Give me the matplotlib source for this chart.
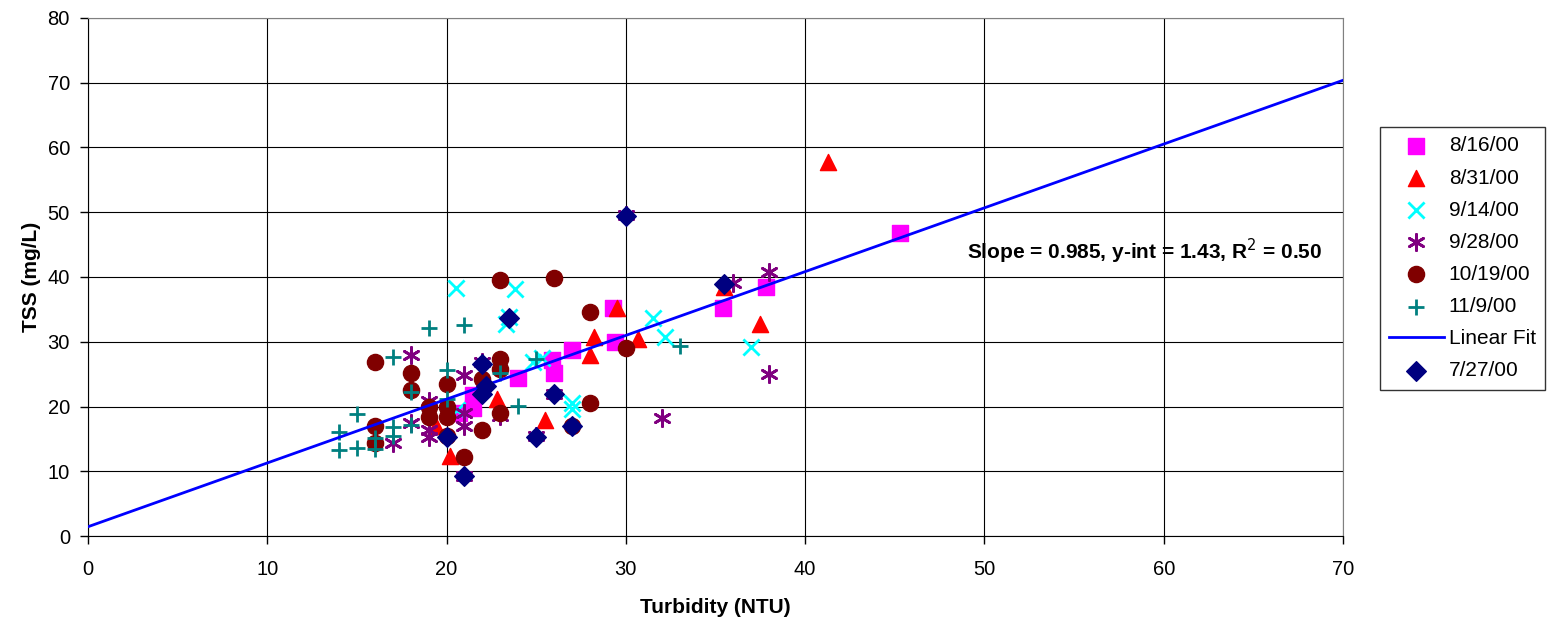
import matplotlib
matplotlib.use('Agg')
import matplotlib.pyplot as plt

plt.rcParams['font.family'] = ['Liberation Sans', 'DejaVu Sans']

# Turbidity (NTU) / TSS (mg/L) por data de coleta
x_0816 = [20.7, 21.5, 21.5, 24.0, 25.9, 26.0, 27.0, 29.3, 29.4, 35.4, 37.8, 45.3]
y_0816 = [19.0, 19.8, 21.7, 24.4, 27.2, 25.1, 28.8, 35.2, 30.0, 35.2, 38.4, 46.8]

x_0831 = [19.4, 20.2, 22.8, 25.5, 28.0, 28.2, 29.5, 30.7, 35.5, 37.5, 41.3]
y_0831 = [17.0, 12.4, 21.1, 17.9, 28.0, 30.8, 35.2, 30.4, 38.5, 32.8, 57.7]

x_0914 = [20.5, 20.6, 23.3, 23.5, 23.8, 24.8, 25.3, 27.0, 27.0, 31.5, 32.2, 37.0]
y_0914 = [38.3, 19.5, 32.7, 33.8, 38.1, 26.9, 27.5, 20.5, 19.6, 33.6, 30.8, 29.2]

x_0928 = [17, 18, 18, 19, 19, 19, 21, 21, 21, 21, 22, 23, 25, 26, 30, 32, 36, 38, 38]
y_0928 = [14.3, 27.9, 17.4, 20.8, 16.3, 15.3, 24.9, 19.0, 17.0, 9.3, 26.8, 18.6,
          15.5, 22.0, 49.5, 18.3, 39.0, 40.7, 25.0]

x_1019 = [16, 16, 16, 18, 18, 19, 19, 20, 20, 20, 20, 21, 22, 22, 23, 23, 23, 23,
          26, 27, 28, 28, 30]
y_1019 = [26.8, 17.0, 14.3, 25.2, 22.5, 20.0, 18.4, 23.5, 20.0, 18.4, 15.4, 12.2,
          24.3, 16.4, 39.5, 27.3, 25.8, 19.0, 39.8, 17.0, 34.6, 20.5, 29.0]

x_1109 = [14, 14, 15, 15, 16, 16, 17, 17, 17, 18, 18, 19, 20, 20, 21, 23, 24, 25, 33]
y_1109 = [16.0, 13.3, 18.9, 13.6, 15.1, 13.5, 27.6, 16.9, 15.4, 22.2, 17.1, 32.1,
          25.6, 21.2, 32.6, 25.2, 20.1, 27.4, 29.3]

x_0727 = [20, 21, 22, 22.2, 22, 23.5, 25, 26, 27, 30, 35.5]
y_0727 = [15.3, 9.2, 26.6, 23.1, 22.0, 33.6, 15.3, 22.0, 17.0, 49.4, 38.9]

# Ajuste linear
slope = 0.985
intercept = 1.43
fit_x = [0, 70]
fit_y = [intercept + slope * v for v in fit_x]

fig = plt.figure(figsize=(15.49, 6.21), dpi=100)
ax = fig.add_axes([88 / 1549, 85 / 621, (1343 - 88) / 1549, (536 - 18) / 621])

ms = 135
ax.scatter(x_0816, y_0816, marker='s', s=ms, color='#FF00FF', label='8/16/00', zorder=3)
ax.scatter(x_0831, y_0831, marker='^', s=ms, color='#FF0000', label='8/31/00', zorder=3)
ax.scatter(x_0914, y_0914, marker='x', s=ms, color='#00FFFF', linewidths=2, label='9/14/00', zorder=3)
ax.scatter(x_0928, y_0928, marker=(6, 2, 0), s=ms, color='#800080', linewidths=2, label='9/28/00', zorder=3)
ax.scatter(x_1019, y_1019, marker='o', s=ms, color='#800000', label='10/19/00', zorder=3)
ax.scatter(x_1109, y_1109, marker='+', s=ms, color='#008080', linewidths=2, label='11/9/00', zorder=3)
ax.plot(fit_x, fit_y, color='#0000FF', linewidth=2, label='Linear Fit', zorder=4)
ax.scatter(x_0727, y_0727, marker='D', s=100, color='#000080', label='7/27/00', zorder=5)

ax.text(49.05, 44.0, 'Slope = 0.985, y-int = 1.43, R$^2$ = 0.50',
        fontsize=15, fontweight='bold', va='center', ha='left', zorder=6)

ax.set_xlim(0, 70)
ax.set_ylim(0, 80)
ax.set_xticks(range(0, 71, 10))
ax.set_yticks(range(0, 81, 10))
ax.grid(True, color='black', linewidth=0.8)
ax.set_axisbelow(True)
ax.tick_params(axis='both', labelsize=14.5, length=6, direction='out', width=1)
ax.tick_params(axis='x', pad=11)
ax.tick_params(axis='y', pad=7)
for side in ['top', 'right']:
    ax.spines[side].set_color('#808080')
ax.set_xlabel('Turbidity (NTU)', fontsize=15, fontweight='bold', labelpad=14)
ax.set_ylabel('TSS (mg/L)', fontsize=15, fontweight='bold', labelpad=5)

leg = ax.legend(loc='upper left', bbox_to_anchor=(1380 / 1549, 1 - 127 / 621),
                bbox_transform=fig.transFigure, borderaxespad=0, fontsize=15,
                frameon=True, fancybox=False, edgecolor='black', labelspacing=0.63,
                handlelength=2.6, handletextpad=0.25, borderpad=0.45)
leg.get_frame().set_linewidth(1)

fig.savefig('out.png', dpi=100)
